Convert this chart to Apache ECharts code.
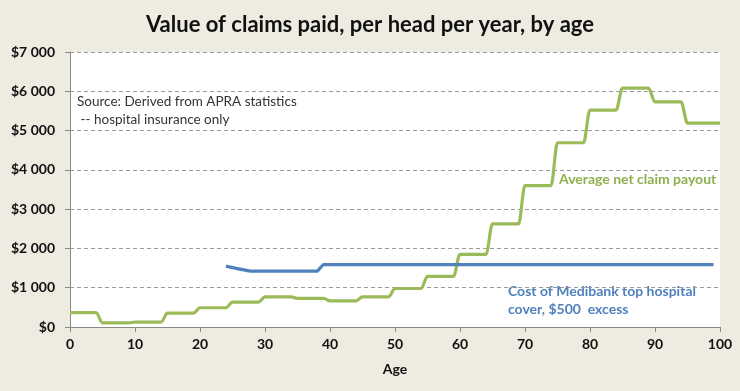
<!DOCTYPE html>
<html>
<head>
<meta charset="utf-8">
<script src="https://cdn.jsdelivr.net/npm/echarts@6/dist/echarts.min.js"></script>
<style>
html,body{margin:0;padding:0;background:#EEEBE1;}
#c{width:740px;height:391px;}
</style>
</head>
<body>
<div id="c"></div>
<script>
// Data
const titleText = 'Value of claims paid, per head per year, by age';
const xAxisName = 'Age';
const greenName = 'Average net claim payout';
const blueName = 'Cost of Medibank top hospital';
const greenAges = [0,4,5,9,10,14,15,19,20,24,25,29,30,34,35,39,40,44,45,49,50,54,55,59,60,64,65,69,70,74,75,79,80,84,85,89,90,94,95,100];
const greenValues = [367,367,105,105,125,125,355,355,490,490,635,635,765,765,730,730,665,665,765,765,980,980,1290,1290,1850,1850,2625,2625,3600,3600,4690,4690,5520,5520,6080,6080,5730,5730,5190,5190];
const blueAges = [24,28,38,39,99];
const blueValues = [1550,1420,1420,1590,1590];
const yTicks = [0,1000,2000,3000,4000,5000,6000,7000];

const chart = echarts.init(document.getElementById('c'));
const font = 'Lato, "Open Sans", sans-serif';
function fmt(v){ const s = String(v); return '$' + (s.length > 3 ? s.slice(0, s.length-3) + ' ' + s.slice(-3) : s); }
chart.setOption({
  backgroundColor: '#EEEBE1',
  animation: false,
  title: {
    text: titleText, left: 'center', top: 9,
    textStyle: {fontFamily: font, fontSize: 22, fontWeight: 'bold', color: '#111'}
  },
  grid: {left: 70, right: 20, top: 52, bottom: 64, show: true, backgroundColor: '#ffffff', borderWidth: 0},
  xAxis: {
    type: 'value', min: 0, max: 100, interval: 10,
    name: xAxisName, nameLocation: 'middle', nameGap: 35,
    nameTextStyle: {fontFamily: font, fontSize: 14, fontWeight: 'bold', color: '#111'},
    axisLine: {show: true, lineStyle: {color: '#8a8a8a', width: 1}},
    axisTick: {show: true, length: 5, lineStyle: {color: '#8a8a8a'}},
    axisLabel: {fontFamily: font, fontSize: 14, fontWeight: 'bold', color: '#111', margin: 10},
    splitLine: {show: false}
  },
  yAxis: {
    type: 'value', min: 0, max: 7000, interval: 1000,
    axisLine: {show: true, lineStyle: {color: '#8a8a8a', width: 1}},
    axisTick: {show: true, length: 5, lineStyle: {color: '#8a8a8a'}},
    axisLabel: {fontFamily: font, fontSize: 14, fontWeight: 'bold', color: '#111', margin: 15,
      formatter: v => yTicks.indexOf(v) >= 0 ? fmt(v) : ''},
    splitLine: {show: true, lineStyle: {color: '#9a9a9a', type: [4,3], width: 1}}
  },
  series: [
    {name: greenName, type: 'line', data: greenAges.map((a,i)=>[a, greenValues[i]]),
     smooth: 0.35, smoothMonotone: 'x', showSymbol: false,
     lineStyle: {color: '#9BBB59', width: 3.2}},
    {name: blueName, type: 'line', data: blueAges.map((a,i)=>[a, blueValues[i]]),
     smooth: 0.12, smoothMonotone: 'x', showSymbol: false,
     lineStyle: {color: '#4F81BD', width: 3.2}}
  ],
  graphic: [
    {type: 'text', left: 77, top: 93, style: {text: 'Source: Derived from APRA statistics\n -- hospital insurance only',
      font: '13.5px ' + font, fill: '#333', lineHeight: 18}},
    {type: 'text', left: 559, top: 172, style: {text: greenName, font: 'bold 14px ' + font, fill: '#8FB04F'}},
    {type: 'text', left: 508, top: 282, style: {text: 'Cost of Medibank top hospital\ncover, $500  excess',
      font: 'bold 14px ' + font, fill: '#4F81BD', lineHeight: 18}}
  ]
});
</script>
</body>
</html>
